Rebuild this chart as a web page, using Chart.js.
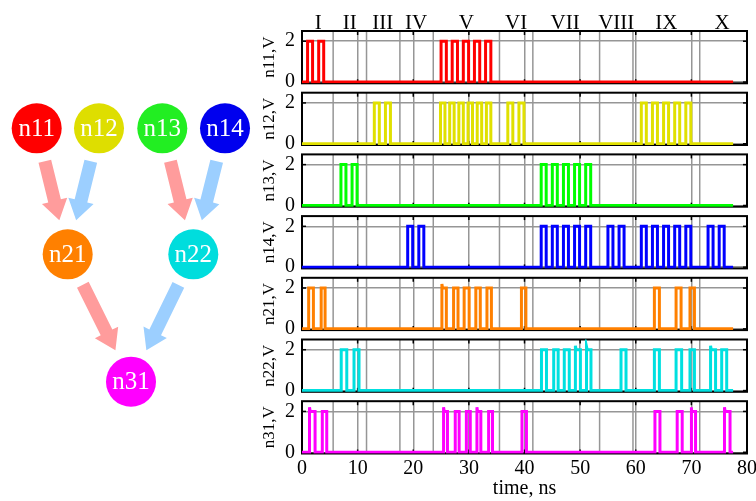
<!DOCTYPE html>
<html><head><meta charset="utf-8">
<script src="https://cdn.jsdelivr.net/npm/chart.js@4.4.0/dist/chart.umd.min.js"></script>
<style>
html,body{margin:0;padding:0;background:#fff;}
#wrap{position:relative;width:756px;height:501px;overflow:hidden;background:#fff;}
canvas{position:absolute;}
</style></head><body><div id="wrap"></div>
<script>
// ---------- data ----------
const signalNames = ['n11','n12','n13','n14','n21','n22','n31'];
const xTickValues = [0,10,20,30,40,50,60,70,80];
const yTickValues = [0,2];
const regionBounds = [5.6,11.6,17.6,23.6,35.5,41.5,53.5,59.5,71.5];
const regionLabels = ['I','II','III','IV','V','VI','VII','VIII','IX','X'];
const regionLabelAt = [2.9,8.6,14.5,20.5,29.55,38.5,47.3,56.5,65.5,75.5];
const traceEnd = 77.5;
// pulses: [rise ns, fall ns, (optional peak V)]
const n11Pulses = [[1.0,1.9],[3.0,3.9],[25.0,25.95],[27.0,27.95],[29.0,29.95],[31.0,31.95],[33.0,33.95]];
const n12Pulses = [[13.0,13.9],[15.0,15.9],[24.9,25.7],[26.55,27.35],[28.2,29.0],[29.85,30.65],[31.5,32.3],[33.15,33.95],[37.0,37.9],[39.0,39.9],[61.0,61.9],[63.0,63.9],[65.0,65.9],[67.0,67.9],[69.0,69.9]];
const n13Pulses = [[7.0,7.9],[9.0,9.9],[43.0,43.9],[45.0,45.9],[47.0,47.9],[49.0,49.9],[51.0,51.9]];
const n14Pulses = [[19.0,19.9],[21.0,21.9],[43.0,43.9],[45.0,45.9],[47.0,47.9],[49.0,49.9],[51.0,51.9],[55.0,55.9],[57.0,57.9],[61.0,61.9],[63.0,63.9],[65.0,65.9],[67.0,67.9],[69.0,69.9],[73.0,73.9],[75.0,75.9]];
const n21Pulses = [[1.2,2.05],[3.45,4.15],[25.15,25.95,2.2],[27.25,28.05],[29.15,30.05],[31.25,32.05],[33.25,34.05],[39.45,40.25],[63.35,64.25],[67.25,68.15],[69.75,70.55]];
const n22Pulses = [[7.05,8.05],[9.35,10.25],[43.05,43.95],[45.25,46.05],[47.15,48.05],[49.15,50.05,2.2],[51.15,51.95,2.15],[57.35,58.25],[63.35,64.25],[67.25,68.25],[69.75,70.55],[73.45,74.35,2.2],[75.45,76.35]];
const n31Pulses = [[1.35,2.35,2.2],[3.65,4.45],[25.45,26.15,2.2],[27.55,28.25],[29.55,30.25],[31.45,32.15,2.2],[33.55,34.25],[39.55,40.35],[63.45,64.35],[67.45,68.35],[69.95,70.75,2.2],[75.95,76.95,2.2]];
const pulseSets = [n11Pulses,n12Pulses,n13Pulses,n14Pulses,n21Pulses,n22Pulses,n31Pulses];

// network diagram
const nodeNames = ['n11','n12','n13','n14','n21','n22','n31'];
const nodeX = [36.7,99,162.3,225,67.7,193.3,131];
const nodeY = [128.3,128.3,128.3,128.3,254.3,254.3,381.7];
const edgeFrom = [0,1,2,3,4,5];
const edgeTo   = [4,4,5,5,6,6];
const edgeKind = ['a','b','a','b','a','b'];

// ---------- styles ----------
const signalColors = ['#ff0000','#e0e000','#00ff00','#0000ff','#ff8000','#00e0e0','#ff00ff'];
const nodeColors = ['#ff0000','#dede00','#22ee22','#0000ee','#ff8000','#00dddd','#ff00ff'];
const edgeColors = {a:'#ff9c9c', b:'#9ccfff'};
const gridColor = '#969696';
const serif = 'Liberation Serif';
const wrap = document.getElementById('wrap');

function buildTrace(pulses){
  const pts = [{x:0,y:0}];
  pulses.forEach(p=>{
    pts.push({x:p[0],y:0});
    if (p.length>2){ pts.push({x:p[0],y:p[2]}); pts.push({x:p[0]+0.12,y:2}); }
    else pts.push({x:p[0],y:2});
    pts.push({x:p[1],y:2});
    pts.push({x:p[1],y:0});
  });
  pts.push({x:traceEnd,y:0});
  return pts;
}

// ---------- diagram ----------
const arrowPlugin = {
  id:'arrows',
  beforeDatasetsDraw(chart){
    const {ctx, scales:{x,y}} = chart;
    ctx.save();
    edgeFrom.forEach((f,k)=>{
      const t = edgeTo[k];
      const sx=x.getPixelForValue(nodeX[f]), sy=y.getPixelForValue(nodeY[f]);
      const tx=x.getPixelForValue(nodeX[t]), ty=y.getPixelForValue(nodeY[t]);
      const L=Math.hypot(tx-sx,ty-sy), ux=(tx-sx)/L, uy=(ty-sy)/L, nx=-uy, ny=ux;
      const ax=sx+ux*34, ay=sy+uy*34, px=tx-ux*35, py=ty-uy*35;
      const hb=20, bx=px-ux*hb, by=py-uy*hb, w1=6.5, w2=13;
      ctx.fillStyle=edgeColors[edgeKind[k]];
      ctx.beginPath();
      ctx.moveTo(ax+nx*w1,ay+ny*w1);
      ctx.lineTo(bx+nx*w1,by+ny*w1);
      ctx.lineTo(bx+nx*w2,by+ny*w2);
      ctx.lineTo(px,py);
      ctx.lineTo(bx-nx*w2,by-ny*w2);
      ctx.lineTo(bx-nx*w1,by-ny*w1);
      ctx.lineTo(ax-nx*w1,ay-ny*w1);
      ctx.closePath(); ctx.fill();
    });
    ctx.restore();
  }
};
const nodeLabelPlugin = {
  id:'nodeLabels',
  afterDatasetsDraw(chart){
    const {ctx, scales:{x,y}} = chart;
    ctx.save();
    ctx.fillStyle='#fff'; ctx.font='25px "'+serif+'"'; ctx.textAlign='center'; ctx.textBaseline='middle';
    nodeNames.forEach((n,i)=>ctx.fillText(n, x.getPixelForValue(nodeX[i]), y.getPixelForValue(nodeY[i])+1));
    ctx.restore();
  }
};
(function(){
  const cv=document.createElement('canvas'); cv.width=256; cv.height=501;
  cv.style.left='0px'; cv.style.top='0px'; wrap.appendChild(cv);
  new Chart(cv,{
    type:'scatter',
    data:{datasets:[{data:nodeX.map((v,i)=>({x:v,y:nodeY[i]})), pointRadius:25, pointHoverRadius:25,
      pointBackgroundColor:nodeColors, pointBorderWidth:0, borderWidth:0, clip:false}]},
    options:{responsive:false, animation:false, events:[], layout:{padding:0, autoPadding:false},
      plugins:{legend:{display:false},tooltip:{enabled:false}},
      scales:{x:{type:'linear',min:0,max:256,display:false}, y:{type:'linear',min:0,max:501,reverse:true,display:false}}},
    plugins:[arrowPlugin,nodeLabelPlugin]
  });
})();

// ---------- panels ----------
const panelTop0 = 31, panelStep = 61.7, panelHeight = 52.3;
function seg(ctx,x1,y1,x2,y2){ctx.beginPath();ctx.moveTo(x1,y1);ctx.lineTo(x2,y2);ctx.stroke();}
const framePlugin = {
  id:'frame',
  beforeDatasetsDraw(chart){
    const {ctx, chartArea:a, scales:{x,y}} = chart;
    ctx.save();
    ctx.strokeStyle=gridColor; ctx.lineWidth=1.5;
    regionBounds.forEach(v=>{const p=x.getPixelForValue(v); seg(ctx,p,a.top,p,a.bottom);});
    ctx.strokeStyle='#000'; ctx.lineWidth=1.5;
    x.ticks.forEach(t=>{const p=x.getPixelForValue(t.value); seg(ctx,p,a.top,p,a.top+4); seg(ctx,p,a.bottom,p,a.bottom-4);});
    y.ticks.forEach(t=>{const p=y.getPixelForValue(t.value); seg(ctx,a.left,p,a.left+4,p); seg(ctx,a.right,p,a.right-4,p);});
    ctx.lineWidth=2;
    ctx.strokeRect(a.left,a.top,a.right-a.left,a.bottom-a.top);
    ctx.restore();
  }
};
const romanPlugin = {
  id:'roman',
  afterDraw(chart){
    const {ctx, scales:{x}} = chart;
    ctx.save(); ctx.fillStyle='#000'; ctx.font='21px "'+serif+'"'; ctx.textAlign='center'; ctx.textBaseline='alphabetic';
    regionLabels.forEach((l,i)=>ctx.fillText(l, x.getPixelForValue(regionLabelAt[i]), 28.5));
    ctx.restore();
  }
};
signalNames.forEach((name,i)=>{
  const T = panelTop0 + panelStep*i, B = T + panelHeight;
  const isLast = i===signalNames.length-1;
  const cTop = i===0 ? 0 : Math.floor(T)-9;
  const cBot = isLast ? 501 : Math.ceil(B)+9;
  const cv=document.createElement('canvas'); cv.width=506; cv.height=cBot-cTop;
  cv.style.left='250px'; cv.style.top=cTop+'px'; wrap.appendChild(cv);
  new Chart(cv,{
    type:'line',
    data:{datasets:[{data:buildTrace(pulseSets[i]), borderColor:signalColors[i], borderWidth:3, pointRadius:0, tension:0, fill:false}]},
    options:{
      responsive:false, animation:false, events:[],
      layout:{autoPadding:false, padding:{left:0,right:9,top:T-cTop,bottom:isLast?0:(cBot-B)}},
      plugins:{legend:{display:false},tooltip:{enabled:false}},
      scales:{
        x:{type:'linear',min:0,max:80,
          afterBuildTicks:s=>{s.ticks=xTickValues.map(v=>({value:v}));},
          ticks:{display:isLast,font:{family:serif,size:20},color:'#000',padding:3,maxRotation:0,autoSkip:false},
          grid:{color:gridColor,lineWidth:1.5,drawTicks:false},
          border:{display:false},
          title:{display:isLast,text:'time, ns',font:{family:serif,size:20},color:'#000',padding:{top:0,bottom:0}},
          afterFit:s=>{s.height = isLast ? 501-B : 0; s.paddingLeft=0; s.paddingRight=0; s.paddingTop=0; s.paddingBottom=0;}
        },
        y:{type:'linear',min:-0.06,max:2.5,
          afterBuildTicks:s=>{s.ticks=yTickValues.map(v=>({value:v}));},
          ticks:{font:{family:serif,size:20},color:'#000',padding:7},
          grid:{color:gridColor,lineWidth:1.5,drawTicks:false},
          border:{display:false},
          title:{display:true,text:name+',V',font:{family:serif,size:17},color:'#000',padding:{top:9,bottom:0}},
          afterFit:s=>{s.width=52; s.paddingTop=0; s.paddingBottom=0; s.paddingLeft=0; s.paddingRight=0;}
        }
      }
    },
    plugins: i===0 ? [framePlugin,romanPlugin] : [framePlugin]
  });
});
</script></body></html>
